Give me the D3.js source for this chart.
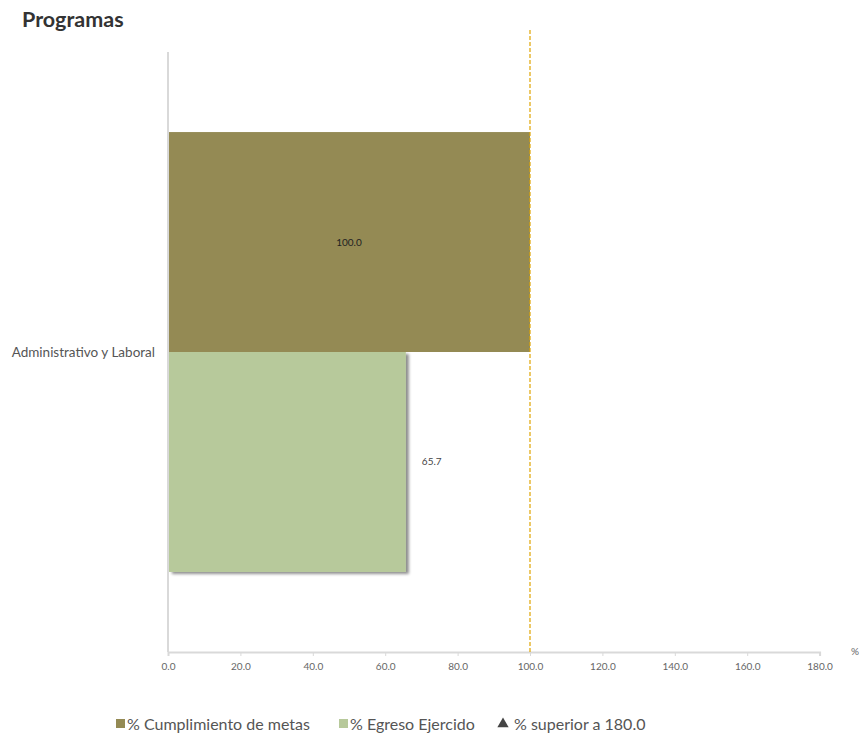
<!DOCTYPE html>
<html><head><meta charset="utf-8">
<script src="https://cdn.jsdelivr.net/npm/d3@7/dist/d3.min.js"></script>
<style>body{margin:0;background:#fff;font-family:Lato,sans-serif}</style>
</head><body><svg id="c" width="861" height="738"></svg>
<script>
const categories = ["Administrativo y Laboral"];
const seriesNames = ["% Cumplimiento de metas", "% Egreso Ejercido"];
const cumplimiento = [100.0];
const egreso = [65.7];
const tickValues = [0,20,40,60,80,100,120,140,160,180];
const refValue = 100;
const legendExtra = "% superior a 180.0";
const colors = ["#948a54", "#b7c99b"];

const svg = d3.select("#c");
const x = d3.scaleLinear().domain([0,180]).range([168,819.6]);
const y = d3.scaleBand().domain(categories).range([52,652]).paddingInner(0).paddingOuter(0.182);
const sub = d3.scaleBand().domain(seriesNames).range([0, y.bandwidth()]);

const defs = svg.append("defs");
const f = defs.append("filter").attr("id","sh").attr("x","-10%").attr("y","-10%").attr("width","130%").attr("height","130%");
f.append("feGaussianBlur").attr("in","SourceAlpha").attr("stdDeviation",1.5);
f.append("feOffset").attr("dx",2.5).attr("dy",2).attr("result","ob");
f.append("feComponentTransfer").append("feFuncA").attr("type","linear").attr("slope",0.45);
const m = f.append("feMerge"); m.append("feMergeNode"); m.append("feMergeNode").attr("in","SourceGraphic");

svg.append("text").attr("x",22).attr("y",27).attr("font-size",21.5).attr("font-weight","bold").attr("fill","#333").text("Programas");

// axes
const xa = svg.append("g").attr("transform","translate(0,652)")
  .call(d3.axisBottom(x).tickValues(tickValues).tickFormat(d3.format(".1f")).tickSize(4));
xa.select(".domain").attr("stroke","#d9d9d9").attr("stroke-width",2);
xa.selectAll(".tick line").attr("stroke","#d9d9d9");
xa.selectAll("text").attr("fill","#666").attr("font-size",10).attr("font-family","Lato").attr("dy","1.1em");
svg.append("line").attr("x1",168).attr("x2",168).attr("y1",52).attr("y2",652).attr("stroke","#d9d9d9").attr("stroke-width",2);
svg.append("text").attr("x",855).attr("y",655).attr("text-anchor","middle").attr("font-size",10).attr("fill","#666").text("%");

svg.selectAll(".cat").data(categories).join("text").attr("x",155).attr("y",d=>y(d)+y.bandwidth()/2+5)
  .attr("text-anchor","end").attr("font-size",13.5).attr("fill","#555").text(d=>d);

// bars
const g = svg.append("g");
categories.forEach((c,i)=>{
  g.append("rect").attr("x",x(0)+1).attr("y",y(c)+sub(seriesNames[1])).attr("width",x(egreso[i])-x(0)-1)
    .attr("height",sub.bandwidth()).attr("fill",colors[1]).attr("filter","url(#sh)");
  g.append("rect").attr("x",x(0)+1).attr("y",y(c)+sub(seriesNames[0])).attr("width",x(cumplimiento[i])-x(0)-1)
    .attr("height",sub.bandwidth()).attr("fill",colors[0]);
  g.append("text").attr("x",(x(0)+x(cumplimiento[i]))/2).attr("y",y(c)+sub(seriesNames[0])+sub.bandwidth()/2+4)
    .attr("text-anchor","middle").attr("font-size",10).attr("fill","#222").text(cumplimiento[i].toFixed(1));
  g.append("text").attr("x",x(egreso[i])+16).attr("y",y(c)+sub(seriesNames[1])+sub.bandwidth()/2+3)
    .attr("text-anchor","start").attr("font-size",10).attr("fill","#444").text(egreso[i].toFixed(1));
});

svg.append("line").attr("x1",x(refValue)).attr("x2",x(refValue)).attr("y1",30).attr("y2",652)
  .attr("stroke","#e0a400").attr("stroke-width",1.2).attr("stroke-dasharray","4,2");

// legend
const leg = svg.append("g").attr("font-size",16).attr("fill","#555");
leg.append("rect").attr("x",116).attr("y",719).attr("width",9).attr("height",9).attr("fill",colors[0]);
leg.append("text").attr("x",127).attr("y",730).attr("fill","#555").text(seriesNames[0]);
leg.append("rect").attr("x",339).attr("y",719).attr("width",9).attr("height",9).attr("fill",colors[1]);
leg.append("text").attr("x",350).attr("y",730).attr("fill","#555").text(seriesNames[1]);
leg.append("path").attr("d",d3.symbol(d3.symbolTriangle,55)()).attr("transform","translate(503,724)").attr("fill","#444");
leg.append("text").attr("x",514).attr("y",730).attr("fill","#555").text(legendExtra);
</script></body></html>
